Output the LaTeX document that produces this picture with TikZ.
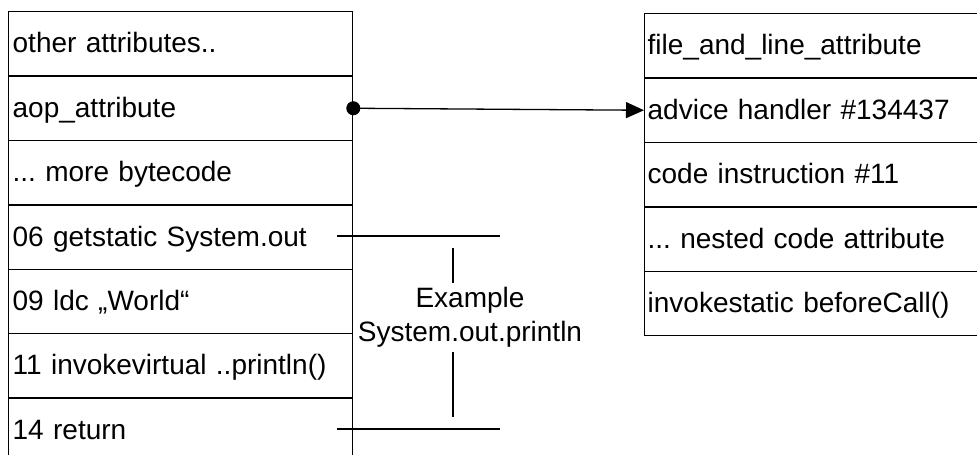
\documentclass[tikz,border=0pt]{standalone}
\usepackage{fontspec}
\setmainfont{Liberation Sans}
\usetikzlibrary{arrows.meta}
\frenchspacing
\begin{document}
\begin{tikzpicture}[x=1pt,y=-1pt,
  txt/.style={font=\fontsize{28}{34}\selectfont},
  cell/.style={txt, draw, line width=1.3pt, rectangle, anchor=north west,
    minimum height=64.4pt, inner ysep=0pt, align=left,
    text height=18pt, text depth=0pt},
  lcell/.style={cell, inner xsep=4pt, text width=336pt, minimum width=344pt},
  rcell/.style={cell, inner xsep=3pt, text width=344pt, minimum width=350pt},
  wire/.style={line width=1.3pt}]
\useasboundingbox (0,0) rectangle (977,455);
\clip (0,0) rectangle (977,455);
\fill[white] (0,0) rectangle (977,455);
% left box
\node[lcell] (l1) at (8,11.0) {other attributes..};
\node[lcell] (l2) at (8,75.4) {aop\_attribute};
\node[lcell] (l3) at (8,139.8) {... more bytecode};
\node[lcell] (l4) at (8,204.2) {06 getstatic System.out};
\node[lcell] (l5) at (8,268.6) {09 ldc „World“};
\node[lcell] (l6) at (8,333.0) {11 invokevirtual ..println()};
\node[lcell] (l7) at (8,397.4) {14 return};
% right box
\node[rcell] (r1) at (644,13.0) {file\_and\_line\_attribute};
\node[rcell] (r2) at (644,77.4) {advice handler \#134437};
\node[rcell] (r3) at (644,141.8) {code instruction \#11};
\node[rcell] (r4) at (644,206.2) {... nested code attribute};
\node[rcell] (r5) at (644,270.6) {invokestatic beforeCall()};
% connector
\draw[wire, {Circle[length=14pt]}-{Triangle[length=18pt,width=16pt]}, shorten <=-7pt]
  (l2.east) -- (r2.west);
% bracket
\coordinate (bt1) at (337,236);
\coordinate (bt2) at (500,236);
\coordinate (bb1) at (337,429);
\coordinate (bb2) at (500,429);
\coordinate (v1) at (453,248);
\coordinate (v2) at (453,283);
\coordinate (v3) at (453,352);
\coordinate (v4) at (453,417);
\draw[wire] (bt1) -- (bt2);
\draw[wire] (bb1) -- (bb2);
\draw[wire] (v1) -- (v2);
\draw[wire] (v3) -- (v4);
\node[txt, align=center, inner sep=0pt] (ex) at (470,317) {Example\\System.out.println};
\end{tikzpicture}
\end{document}
